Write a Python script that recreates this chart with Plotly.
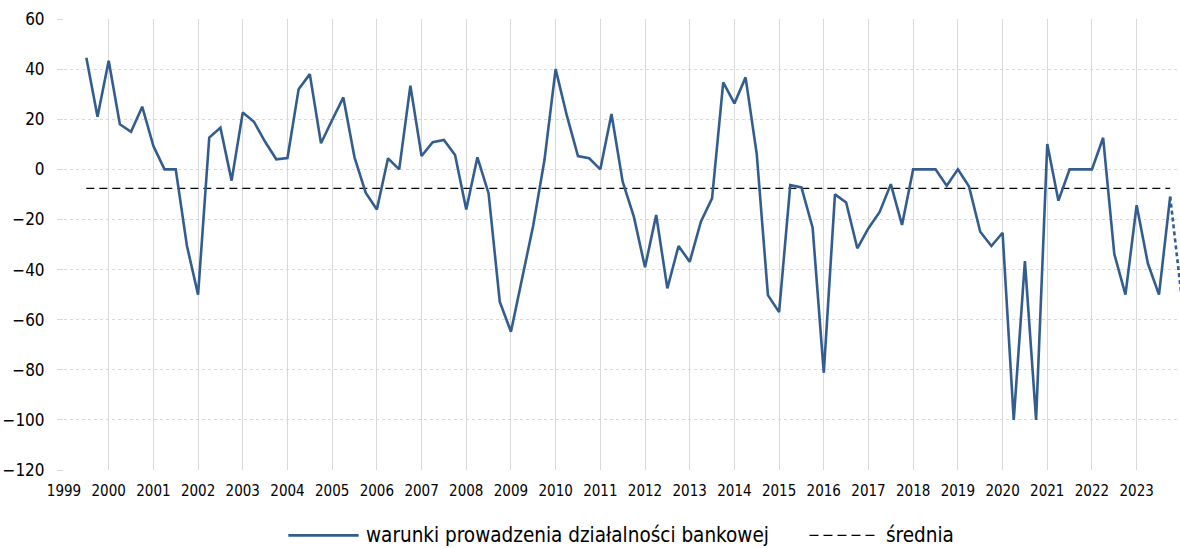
import pandas as pd
import plotly.graph_objects as go

# Quarterly index: 1999 Q3 .. 2023 Q4, plus one forecast quarter (2024 Q1)
quarters = pd.period_range("1999Q3", "2023Q4", freq="Q")
forecast_quarter = pd.Period("2024Q1", freq="Q")

conditions = [
    44.5, 21, 43.3, 18, 15, 25, 9.3, 0, 0, -30.5,
    -50, 12.7, 16.6, -4.5, 22.7, 19, 11, 4, 4.5, 32,
    38, 10.4, 19.7, 28.7, 4.8, -9.3, -16, 4.4, 0, 33.4,
    5.3, 10.8, 11.7, 5.7, -16, 4.8, -9.6, -52.8, -64.8, -43,
    -22.3, 3.7, 40, 21.5, 5.3, 4.4, 0, 22.1, -4.9, -18.9,
    -39.1, -18.2, -47.5, -30.6, -36.9, -20.9, -11.6, 34.7, 26.3, 36.7,
    6.1, -50.2, -57, -6.3, -7.2, -23.3, -81.2, -10, -13.2, -31.5,
    -23.5, -17, -5.9, -22.2, 0, 0, 0, -6.5, 0, -6.9,
    -24.9, -30.6, -25.3, -100, -36.6, -100, 10.1, -12.5, 0, 0,
    0, 12.6, -33.8, -50, -14.3, -37.5, -50, -10.9,
]
forecast_value = -50
mean_value = -7.6

year_ticks = list(range(1999, 2024))
y_ticks = list(range(-120, 61, 20))

BLUE = "#335d8f"
GRID = "#d9d9d9"
FONT = "Tahoma, 'DejaVu Sans Condensed', 'DejaVu Sans', sans-serif"


def to_decimal_year(p):
    return p.year + (p.quarter - 1) / 4


x = [to_decimal_year(q) for q in quarters]
x_fc = [x[-1], to_decimal_year(forecast_quarter)]

fig = go.Figure()

fig.add_trace(go.Scatter(
    x=[x[0], x[-1]], y=[mean_value, mean_value], mode="lines",
    line=dict(color="black", width=1.3, dash="8px,5px"),
    showlegend=False, hoverinfo="skip",
))
fig.add_trace(go.Scatter(
    x=x_fc, y=[conditions[-1], forecast_value], mode="lines",
    line=dict(color=BLUE, width=2.6, dash="4px,3px"),
    showlegend=False, hoverinfo="skip",
))
fig.add_trace(go.Scatter(
    x=x, y=conditions, mode="lines",
    line=dict(color=BLUE, width=2.6),
    showlegend=False,
))

# Legend drawn below the plot area
legend_y = -0.145
fig.add_shape(type="line", xref="paper", yref="paper",
              x0=0.201, x1=0.264, y0=legend_y, y1=legend_y,
              line=dict(color=BLUE, width=2.6))
fig.add_annotation(xref="paper", yref="paper", x=0.269, y=legend_y,
                   text="warunki prowadzenia działalności bankowej",
                   showarrow=False, xanchor="left", yanchor="middle",
                   font=dict(size=20.5, color="#000000", family=FONT))
fig.add_shape(type="line", xref="paper", yref="paper",
              x0=0.668, x1=0.729, y0=legend_y, y1=legend_y,
              line=dict(color="black", width=1.3, dash="9px,5px"))
fig.add_annotation(xref="paper", yref="paper", x=0.735, y=legend_y,
                   text="średnia",
                   showarrow=False, xanchor="left", yanchor="middle",
                   font=dict(size=20.5, color="#000000", family=FONT))

fig.update_layout(
    width=1180, height=548,
    margin=dict(l=64, r=0, t=19, b=78),
    paper_bgcolor="white", plot_bgcolor="white",
    font=dict(family=FONT, color="#000000"),
    xaxis=dict(
        range=[1999, 2023.97], tickmode="array", tickvals=year_ticks,
        ticktext=[str(v) for v in year_ticks],
        showgrid=True, gridcolor=GRID, gridwidth=1,
        zeroline=False, showline=False, ticks="",
        ticklabelstandoff=10,
        tickfont=dict(size=15), fixedrange=True,
    ),
    yaxis=dict(
        range=[-120, 60], tickmode="array", tickvals=y_ticks,
        showgrid=True, gridcolor=GRID, gridwidth=1, griddash="dot",
        zeroline=False, showline=False,
        ticks="outside", ticklen=6, tickcolor=GRID,
        ticklabelstandoff=9,
        tickfont=dict(size=17), fixedrange=True,
    ),
)

fig.write_html("out.html")
